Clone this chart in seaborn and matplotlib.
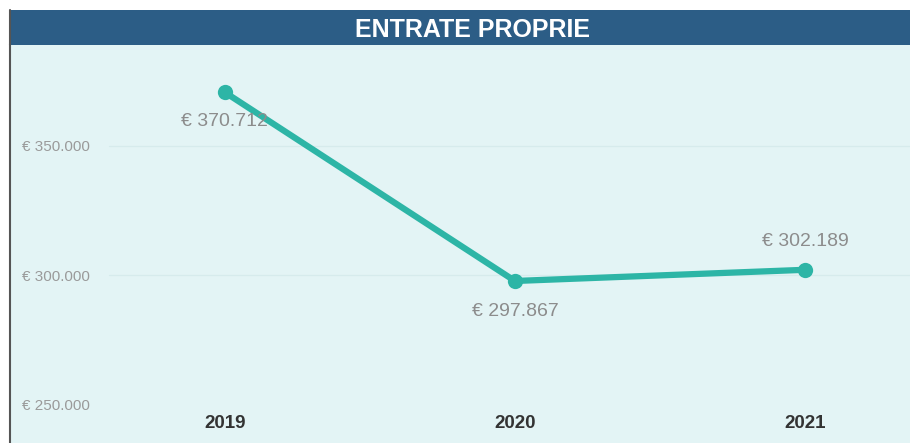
import numpy as np
import pandas as pd
import seaborn as sns
import matplotlib.pyplot as plt
from matplotlib.patches import Rectangle

## data
anni = ["2019", "2020", "2021"]
entrate = [370712, 297867, 302189]
etichette = ["€ 370.712", "€ 297.867", "€ 302.189"]
y_ticks = [250000, 300000, 350000]
y_tick_labels = ["€ 250.000", "€ 300.000", "€ 350.000"]

sns.set_theme(style="white")
plt.rcParams['font.family'] = ['Liberation Sans', 'DejaVu Sans']

W, H = 910, 443
fig = plt.figure(figsize=(W / 100, H / 100), dpi=100)
fig.patch.set_facecolor("white")

# title bar
fig.patches.append(Rectangle((10 / W, 1 - 45 / H), 900 / W, 35 / H,
                             transform=fig.transFigure, facecolor="#2C5D86",
                             edgecolor="none", zorder=0))
fig.text(472 / W, 1 - 30 / H, "ENTRATE PROPRIE", color="white", fontsize=18,
         fontweight="bold", ha="center", va="center")

ax = fig.add_axes([10 / W, 0, 900 / W, 398 / H])
ax.set_facecolor("#E3F4F5")

df = pd.DataFrame({"anno": anni, "entrate": entrate})
sns.lineplot(data=df, x="anno", y="entrate", ax=ax, color="#2DB5A6",
             linewidth=4.5, marker="o", markersize=11, markeredgewidth=0)

# faint gridlines
for t in y_ticks[1:]:
    ax.axhline(t, xmin=0.11, xmax=1, color="#D6EBEC", linewidth=0.9, zorder=0)

# data labels
offsets = [-29, -31, 28]
for i, (v, lab, off) in enumerate(zip(entrate, etichette, offsets)):
    ax.annotate(lab, (i, v), xytext=(0, off * 0.72), textcoords="offset points",
                ha="center", va="center", fontsize=14, color="#8C8C8C")

ax.set_xlim(-0.741, 2.362)
ax.set_ylim(235300, 389000)
ax.set_yticks(y_ticks)
ax.set_yticklabels(y_tick_labels)
ax.set_xlabel("")
ax.set_ylabel("")

ax.tick_params(axis="x", length=0, pad=-20, labelsize=13.5, labelcolor="#333333")
for lbl in ax.get_xticklabels():
    lbl.set_fontweight("bold")
ax.tick_params(axis="y", length=0, pad=-8.6, labelsize=11, labelcolor="#9A9A9A")
for lbl in ax.get_yticklabels():
    lbl.set_horizontalalignment("left")

for s in ["top", "right", "bottom"]:
    ax.spines[s].set_visible(False)
ax.spines["left"].set_color("#555555")
ax.spines["left"].set_linewidth(1.5)

# left border along title bar
fig.add_artist(plt.Line2D([10 / W, 10 / W], [1 - 45 / H, 1 - 10 / H],
                          transform=fig.transFigure, color="#555555", linewidth=1.5))

fig.savefig("out.png", dpi=100)
